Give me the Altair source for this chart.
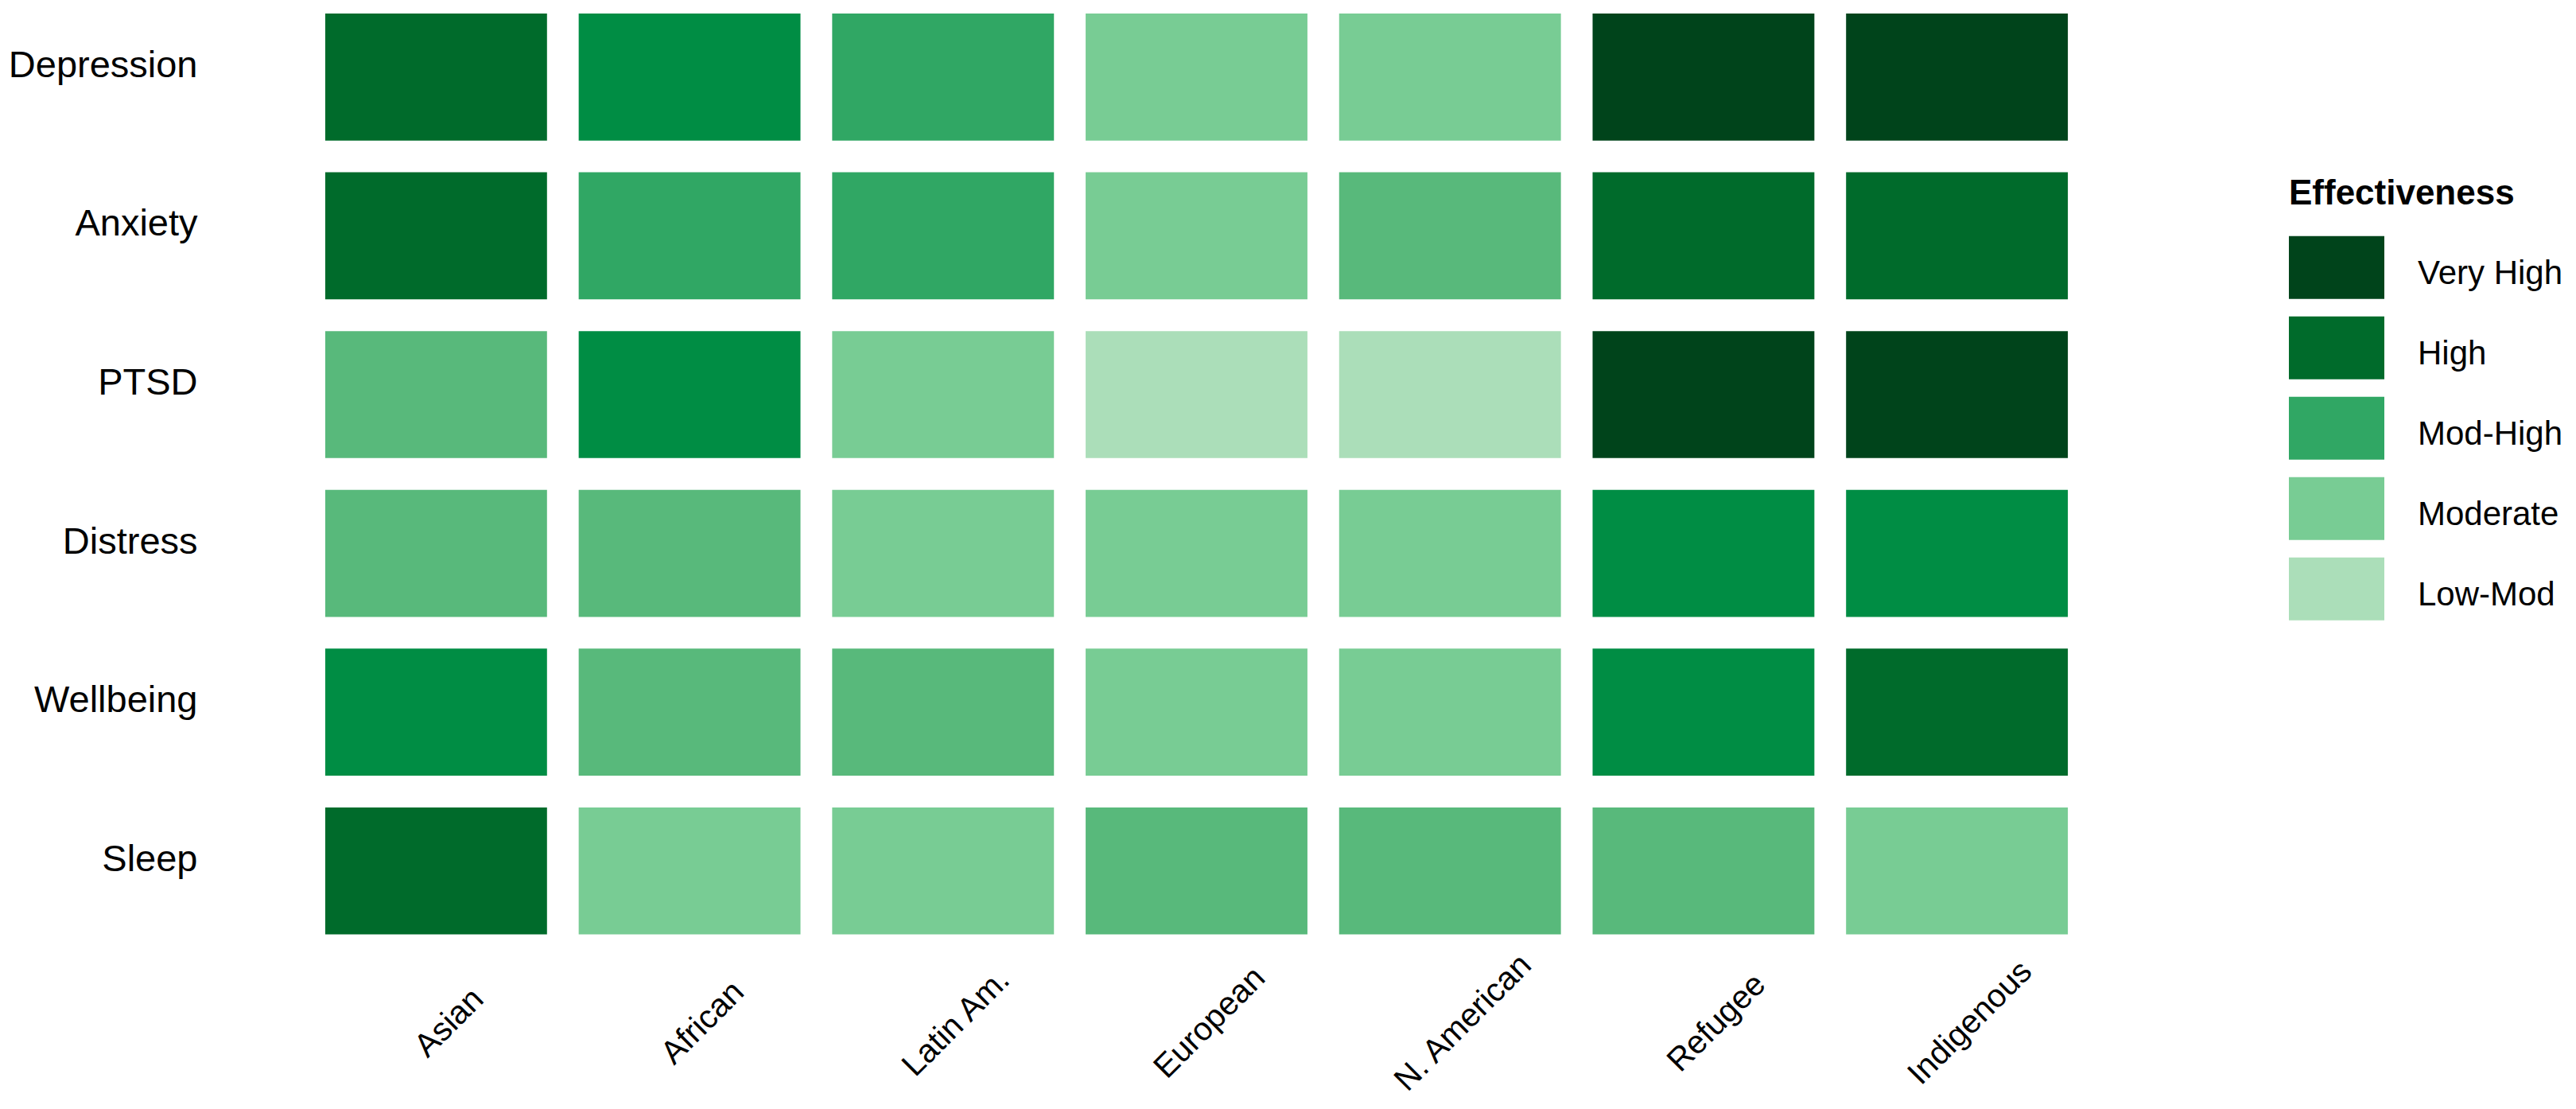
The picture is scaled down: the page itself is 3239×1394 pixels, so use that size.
import altair as alt
import pandas as pd

# Columns (population groups) and rows (outcomes)
groups = ["Asian", "African", "Latin Am.", "European", "N. American", "Refugee", "Indigenous"]
outcomes = ["Depression", "Anxiety", "PTSD", "Distress", "Wellbeing", "Sleep"]

# Effectiveness score per outcome (1 = Low-Mod ... 5 = Very High)
depression = [4, 3.5, 3, 2, 2, 5, 5]
anxiety = [4, 3, 3, 2, 2.5, 4, 4]
ptsd = [2.5, 3.5, 2, 1, 1, 5, 5]
distress = [2.5, 2.5, 2, 2, 2, 3.5, 3.5]
wellbeing = [3.5, 2.5, 2.5, 2, 2, 3.5, 4]
sleep = [4, 2, 2, 2.5, 2.5, 2.5, 2]

series = [depression, anxiety, ptsd, distress, wellbeing, sleep]

# Legend levels
legend_values = [5, 4, 3, 2, 1]
legend_labels = ["Very High", "High", "Mod-High", "Moderate", "Low-Mod"]

# Colour ramp
color_domain = [1, 2, 2.5, 3, 3.5, 4, 5]
color_range = ["#abdeb9", "#78cc94", "#58b97b", "#30a764", "#008d44", "#006b2b", "#00441b"]

records = []
for outcome, vals in zip(outcomes, series):
    for g, v in zip(groups, vals):
        records.append({"Outcome": outcome, "Group": g, "Score": v})
df = pd.DataFrame(records)

label_expr = " : ".join(
    f"datum.value == {v} ? '{lab}'" for v, lab in zip(legend_values, legend_labels)
) + " : ''"

W, H = 2231, 1175.6

chart = (
    alt.Chart(df)
    .mark_rect()
    .encode(
        x=alt.X(
            "Group:N",
            sort=groups,
            title=None,
            scale=alt.Scale(paddingInner=0.125, paddingOuter=0.0625),
            axis=alt.Axis(
                labelAngle=315,
                labelAlign="center",
                labelBaseline="middle",
                labelPadding=102,
                labelOffset=17,
                labelLimit=0,
                ticks=False,
                tickSize=0,
                domain=False,
                labelFontSize=41,
                labelColor="#000000",
            ),
        ),
        y=alt.Y(
            "Outcome:N",
            sort=outcomes,
            title=None,
            scale=alt.Scale(paddingInner=0.2, paddingOuter=0.045),
            axis=alt.Axis(
                labelAlign="right",
                labelBaseline="middle",
                labelPadding=141,
                labelOffset=-14,
                labelLimit=0,
                ticks=False,
                tickSize=0,
                domain=False,
                labelFontSize=47,
                labelColor="#000000",
            ),
        ),
        color=alt.Color(
            "Score:Q",
            scale=alt.Scale(domain=color_domain, range=color_range, interpolate="rgb"),
            legend=alt.Legend(
                type="symbol",
                values=legend_values,
                labelExpr=label_expr,
                title="Effectiveness",
                orient="none",
                direction="vertical",
                legendX=2489,
                legendY=213.7,
                padding=0,
                titleFontSize=44,
                titleFontWeight="bold",
                titleColor="#000000",
                titleBaseline="top",
                titleAlign="left",
                titlePadding=39,
                titleLimit=0,
                labelFontSize=42,
                labelColor="#000000",
                labelOffset=83,
                labelBaseline="middle",
                labelLimit=0,
                rowPadding=21,
                symbolType="M-1,-1.2H2.038V0.8H-1Z",
                symbolSize=6241,
                symbolStrokeWidth=0,
                symbolOpacity=1,
            ),
        ),
    )
    .properties(
        width=W,
        height=H,
        autosize=alt.AutoSizeParams(type="none"),
        padding={"left": 381, "top": 0, "right": 611, "bottom": 202},
    )
    .configure(font="Liberation Sans")
    .configure_view(stroke=None, strokeWidth=0)
)

chart.save("out.html", embed_options={"renderer": "svg", "actions": False})
